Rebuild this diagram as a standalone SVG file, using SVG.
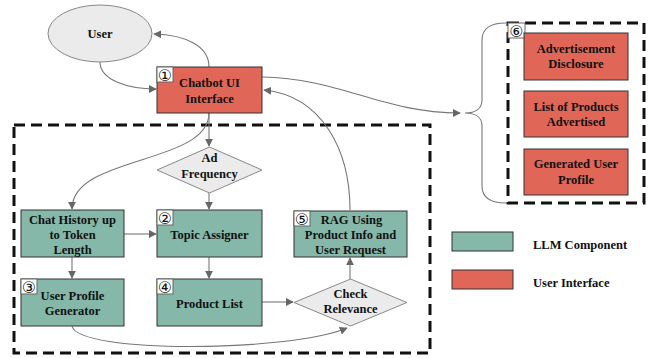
<svg xmlns="http://www.w3.org/2000/svg" width="649" height="358" viewBox="0 0 649 358">
<defs>
<marker id="ah" viewBox="0 0 10 10" refX="9" refY="5" markerWidth="8" markerHeight="8" markerUnits="userSpaceOnUse" orient="auto">
<path d="M0,0 L10,5 L0,10 z" fill="#666"/>
</marker>
<style>
.t{font-family:"Liberation Serif","Times New Roman",serif;font-weight:bold;font-size:12.5px;fill:#111;text-anchor:middle}
.lt{font-family:"Liberation Serif","Times New Roman",serif;font-weight:bold;font-size:12.5px;fill:#111}
.red{fill:#E06757;stroke:#333;stroke-width:1}
.teal{fill:#85B8A9;stroke:#333;stroke-width:1}
.gray{fill:#EBEBEB;stroke:#888;stroke-width:1}
.badge{fill:#fff;stroke:#666;stroke-width:1}
.bn{font-family:"DejaVu Sans",sans-serif;font-size:16px;fill:#111;text-anchor:middle}
.dash{fill:none;stroke:#111;stroke-width:3;stroke-dasharray:11 6}
.c{fill:none;stroke:#777;stroke-width:1.1}
.ca{fill:none;stroke:#777;stroke-width:1.1;marker-end:url(#ah)}
</style>
</defs>
<rect width="649" height="358" fill="#fff"/>

<rect class="dash" x="14" y="125" width="416" height="228"/>
<rect class="dash" x="508" y="23" width="136" height="180"/>

<g id="connectors">
<path class="ca" d="M209,67 C209,46 186,35 154,34"/>
<path class="ca" d="M100,62 C100,80 128,89 156,89"/>
<path class="ca" d="M262,77 C340,78 382,113 460,113"/>
<path class="ca" d="M350,210 C350,150 322,96 264,90"/>
<path class="ca" d="M209,113 L209,146"/>
<path class="ca" d="M209,113 C209,165 72,155 72,209"/>
<path class="ca" d="M209,193 L209,209"/>
<path class="ca" d="M124,234 L156,234"/>
<path class="ca" d="M72,257 L72,278"/>
<path class="ca" d="M209,257 L209,278"/>
<path class="ca" d="M262,302 L293,302"/>
<path class="ca" d="M350,279 L350,258"/>
<path class="ca" d="M72,326 C78,354 290,352 347,328"/>
<path class="c" d="M506,23 C490,23 482,28 482,40 L482,100 C482,108 476,113 465,113 C476,113 482,118 482,126 L482,186 C482,198 490,203 506,203"/>
</g>

<g id="user">
<ellipse class="gray" cx="100" cy="33.5" rx="52" ry="28.5"/>
<text class="t" x="100" y="38">User</text>
</g>

<g id="chatbot">
<rect class="red" x="157" y="67" width="105" height="46"/>
<rect class="badge" x="157" y="67" width="16" height="15"/>
<text class="bn" x="165" y="80.5">①</text>
<text class="t" x="209.5" y="87">Chatbot UI</text>
<text class="t" x="209.5" y="103">Interface</text>
</g>

<g id="adfreq">
<polygon class="gray" points="209.5,147 262,170 209.5,193 157,170"/>
<text class="t" x="209.5" y="162">Ad</text>
<text class="t" x="209.5" y="178">Frequency</text>
</g>

<g id="chathistory">
<rect class="teal" x="21" y="210" width="103" height="47"/>
<text class="t" x="72.5" y="223.5">Chat History up</text>
<text class="t" x="72.5" y="238.5">to Token</text>
<text class="t" x="72.5" y="253.5">Length</text>
</g>

<g id="topic">
<rect class="teal" x="157" y="210" width="105" height="47"/>
<rect class="badge" x="157" y="210" width="16" height="15"/>
<text class="bn" x="165" y="223.5">②</text>
<text class="t" x="209.5" y="238.5">Topic Assigner</text>
</g>

<g id="userprofile">
<rect class="teal" x="21" y="279" width="103" height="47"/>
<rect class="badge" x="21" y="279" width="16" height="15"/>
<text class="bn" x="29" y="292.5">③</text>
<text class="t" x="72.5" y="299.5">User Profile</text>
<text class="t" x="72.5" y="315">Generator</text>
</g>

<g id="productlist">
<rect class="teal" x="157" y="279" width="105" height="47"/>
<rect class="badge" x="157" y="279" width="16" height="15"/>
<text class="bn" x="165" y="292.5">④</text>
<text class="t" x="209.5" y="307.5">Product List</text>
</g>

<g id="rag">
<rect class="teal" x="294" y="211" width="113" height="46"/>
<rect class="badge" x="294" y="211" width="16" height="15"/>
<text class="bn" x="302" y="224.5">⑤</text>
<text class="t" x="351.5" y="223.5">RAG Using</text>
<text class="t" x="350.5" y="238.5">Product Info and</text>
<text class="t" x="350.5" y="254">User Request</text>
</g>

<g id="check">
<polygon class="gray" points="350.5,279 407,302.5 350.5,326 294,302.5"/>
<text class="t" x="350.5" y="297.5">Check</text>
<text class="t" x="350.5" y="312.5">Relevance</text>
</g>

<g id="outputs">
<rect class="badge" x="508" y="23" width="17" height="15"/>
<text class="bn" x="516.5" y="36.5">⑥</text>
</g>

<g id="disclosure">
<rect class="red" x="524" y="33" width="104" height="47"/>
<text class="t" x="576" y="53">Advertisement</text>
<text class="t" x="576" y="68">Disclosure</text>
</g>

<g id="products">
<rect class="red" x="524" y="91" width="104" height="46"/>
<text class="t" x="576" y="111">List of Products</text>
<text class="t" x="576" y="126">Advertised</text>
</g>

<g id="genprofile">
<rect class="red" x="524" y="149" width="104" height="46"/>
<text class="t" x="576" y="168">Generated User</text>
<text class="t" x="576" y="184">Profile</text>
</g>

<g id="legend">
<rect class="teal" x="452" y="232" width="61" height="19"/>
<text class="lt" x="533" y="248.5">LLM Component</text>
<rect class="red" x="452" y="270" width="61" height="19"/>
<text class="lt" x="533" y="287">User Interface</text>
</g>
</svg>
